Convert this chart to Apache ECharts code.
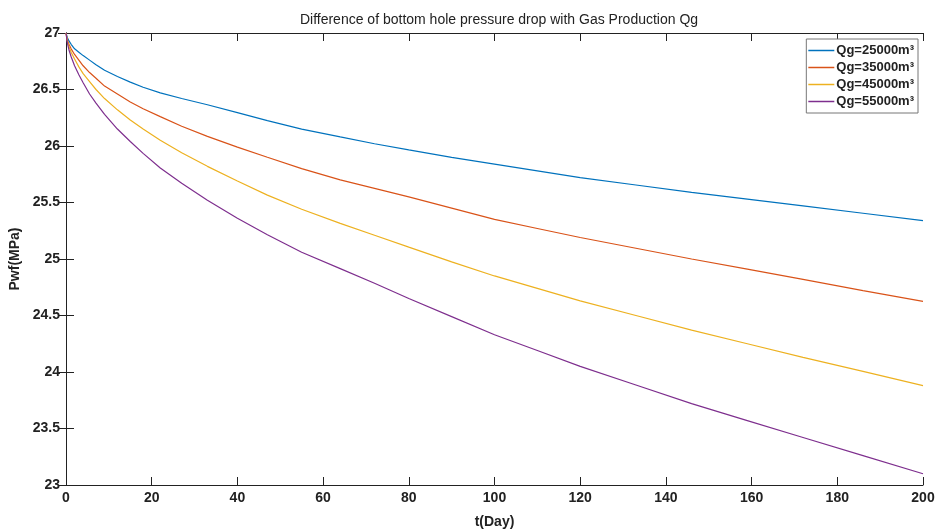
<!DOCTYPE html>
<html>
<head>
<meta charset="utf-8">
<script src="https://cdn.jsdelivr.net/npm/echarts@6/dist/echarts.min.js"></script>
<style>
  html, body { margin: 0; padding: 0; background: #fff; }
  #chart { width: 937px; height: 529px; }
</style>
</head>
<body>
<div id="chart"></div>
<script>
// time in days
const days = [0, 0.3, 0.7, 1.2, 2, 3, 4, 5.5, 7, 9, 12, 15, 18, 22, 27, 33, 40, 47, 55, 64, 72, 80, 90, 100, 110, 120, 133, 146, 159, 172, 186, 200];

// Pwf (MPa) for each gas production rate
const qg25000 = [27, 26.96, 26.93, 26.90, 26.86, 26.83, 26.80, 26.76, 26.72, 26.67, 26.615, 26.565, 26.52, 26.47, 26.42, 26.365, 26.295, 26.225, 26.15, 26.08, 26.02, 25.965, 25.90, 25.84, 25.78, 25.72, 25.655, 25.59, 25.53, 25.47, 25.405, 25.34];
const qg35000 = [27, 26.94, 26.90, 26.86, 26.81, 26.76, 26.71, 26.65, 26.60, 26.53, 26.46, 26.39, 26.33, 26.26, 26.175, 26.085, 25.99, 25.90, 25.80, 25.70, 25.625, 25.55, 25.45, 25.35, 25.27, 25.19, 25.095, 25.00, 24.91, 24.82, 24.72, 24.625];
const qg45000 = [27, 26.93, 26.88, 26.83, 26.77, 26.70, 26.64, 26.57, 26.50, 26.42, 26.32, 26.23, 26.15, 26.05, 25.94, 25.82, 25.69, 25.565, 25.44, 25.315, 25.21, 25.105, 24.975, 24.85, 24.74, 24.63, 24.50, 24.37, 24.25, 24.13, 24.005, 23.88];
const qg55000 = [27, 26.915, 26.85, 26.79, 26.71, 26.63, 26.56, 26.46, 26.38, 26.28, 26.15, 26.04, 25.935, 25.805, 25.67, 25.52, 25.36, 25.215, 25.06, 24.915, 24.785, 24.65, 24.49, 24.33, 24.19, 24.05, 23.885, 23.72, 23.57, 23.42, 23.26, 23.10];

const seriesNames = ["Qg=25000m³", "Qg=35000m³", "Qg=45000m³", "Qg=55000m³"];
const seriesColors = ["#0072BD", "#D95319", "#EDB120", "#7E2F8E"];
const seriesValues = [qg25000, qg35000, qg45000, qg55000];

const font = "'Liberation Sans', Arial, sans-serif";

const pairs = (ys) => days.map((d, i) => [d, ys[i]]);

const chart = echarts.init(document.getElementById("chart"));

const option = {
  animation: false,
  backgroundColor: "#fff",
  textStyle: { fontFamily: font },
  title: {
    text: "Difference of bottom hole pressure drop with Gas Production Qg",
    left: 494,
    textAlign: "center",
    top: 8,
    textStyle: { fontFamily: font, fontSize: 14, fontWeight: "normal", color: "#222" },
  },
  legend: {
    orient: "vertical",
    right: 19,
    top: 39,
    backgroundColor: "#fff",
    borderColor: "#777",
    borderWidth: 1,
    padding: [5, 4, 5, 2],
    itemGap: 4,
    itemWidth: 26,
    itemHeight: 1.5,
    icon: "rect",
    data: seriesNames,
    textStyle: { fontFamily: font, fontSize: 13, fontWeight: "bold", color: "#222", padding: [0, 0, 0, -3] },
  },
  grid: { left: 66, right: 14, top: 33, bottom: 44, containLabel: false, outerBoundsMode: "none" },
  xAxis: [
    {
      type: "value",
      min: 0,
      max: 200,
      interval: 20,
      name: "t(Day)",
      nameLocation: "middle",
      nameGap: 30,
      nameTextStyle: { fontFamily: font, fontSize: 14, fontWeight: "bold", color: "#222" },
      axisLine: { lineStyle: { color: "#222", width: 1 } },
      axisTick: { inside: true, length: 8, lineStyle: { color: "#222" } },
      axisLabel: { fontFamily: font, fontSize: 14, fontWeight: "bold", color: "#222", margin: 6 },
      splitLine: { show: false },
    },
    {
      type: "value",
      position: "top",
      min: 0,
      max: 200,
      interval: 20,
      axisLine: { lineStyle: { color: "#222", width: 1 } },
      axisTick: { inside: true, length: 8, lineStyle: { color: "#222" } },
      axisLabel: { show: false },
      splitLine: { show: false },
    },
  ],
  yAxis: [
    {
      type: "value",
      min: 23,
      max: 27,
      interval: 0.5,
      name: "Pwf(MPa)",
      nameLocation: "middle",
      nameGap: 33,
      nameTextStyle: { fontFamily: font, fontSize: 14, fontWeight: "bold", color: "#222" },
      axisLine: { show: true, lineStyle: { color: "#222", width: 1 } },
      axisTick: { show: true, inside: true, length: 8, lineStyle: { color: "#222" } },
      axisLabel: { fontFamily: font, fontSize: 14, fontWeight: "bold", color: "#222", margin: 6 },
      splitLine: { show: false },
    },
    {
      type: "value",
      position: "right",
      min: 23,
      max: 27,
      interval: 0.5,
      axisLine: { show: true, lineStyle: { color: "#222", width: 1 } },
      axisTick: { show: true, inside: true, length: 8, lineStyle: { color: "#222" } },
      axisLabel: { show: false },
      splitLine: { show: false },
    },
  ],
  series: seriesValues.map((vals, i) => ({
    name: seriesNames[i],
    type: "line",
    data: pairs(vals),
    smooth: false,
    showSymbol: false,
    symbol: "none",
    color: seriesColors[i],
    lineStyle: { width: 1.2, color: seriesColors[i] },
  })),
};

chart.setOption(option);
</script>
</body>
</html>
